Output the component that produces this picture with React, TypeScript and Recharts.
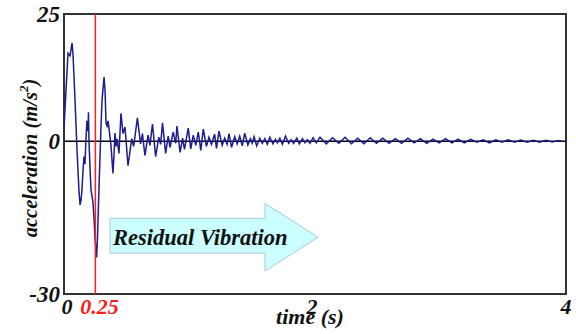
import React from 'react';
import { LineChart, Line, XAxis, YAxis, ReferenceLine, ReferenceArea } from 'recharts';

const font = 'Liberation Serif';

// impact transient, first 0.45 s
const transientT = [
  0, 0.016, 0.032, 0.048, 0.056, 0.064, 0.072, 0.088, 0.104, 0.12, 0.128, 0.136, 0.143, 0.151,
  0.159, 0.167, 0.175, 0.183, 0.191, 0.195, 0.199, 0.207, 0.215, 0.231, 0.239, 0.247, 0.26,
  0.268, 0.279, 0.295, 0.303, 0.319, 0.327, 0.335, 0.343, 0.351, 0.359, 0.375, 0.39, 0.398,
  0.406, 0.414, 0.422, 0.438,
];
const transientA = [
  2.5, 10, 17.3, 16.8, 18, 19.3, 17, 8, -2, -10, -12.5, -11.5, -9.6, -6,
  -3, -4.5, 0.5, 4, 2, 5.7, 0, -5, -9.5, -12, -15, -19, -22.8,
  -18, -9, 3, 8, 12.6, 10, 3.5, 3, 4, 2.5, -1, -6.3, -3,
  1.6, -1, 0.5, -2.4,
];

// residual vibration, 0.45 - 2 s
const decayT = [
  0.454, 0.47, 0.486, 0.51, 0.54, 0.555, 0.585, 0.61, 0.625, 0.645, 0.67, 0.685, 0.705, 0.73,
  0.755, 0.77, 0.785, 0.81, 0.83, 0.845, 0.87, 0.89, 0.9, 0.925, 0.945, 0.96, 0.99, 1.01,
  1.03, 1.05, 1.07, 1.09, 1.11, 1.135, 1.155, 1.175, 1.2, 1.215, 1.235, 1.26, 1.28, 1.3,
  1.315, 1.335, 1.36, 1.38, 1.4, 1.42, 1.44, 1.465, 1.485, 1.5, 1.515, 1.535, 1.56, 1.58,
  1.6, 1.62, 1.64, 1.665, 1.685, 1.7, 1.72, 1.74, 1.765, 1.79, 1.81, 1.83, 1.855, 1.875,
  1.9, 1.92, 1.94, 1.96, 1.985, 2.01,
];
const decayA = [
  5.5, 1.5, 2.8, -4.8, 0.5, -1, 4.6, -0.5, 1.5, -2.8, 1.2, -0.8, 3.4, -3,
  0.8, -0.6, 3.6, -2.4, 1, -1.2, 1.8, -0.4, 3, -2.2, 0.6, -1.6, 2.6, -1.5,
  1.2, -0.8, 1.8, -1.8, 2.4, -1, 0.8, -0.6, 1.4, -1.4, 2, -0.8, 0.6, -0.6,
  1.5, -1.2, 0.9, -0.5, 1, -0.9, 1.6, -0.7, 0.5, -0.4, 0.9, -0.9, 0.6, -0.4,
  0.5, -0.6, 0.8, -0.5, 0.4, -0.3, 0.6, -0.6, 1, -0.4, 0.3, -0.4, 0.6, -0.5,
  0.5, -0.3, 0.3, -0.4, 0.7, -0.3,
];

// tail, 2 - 4 s
const tailT = [
  2.04, 2.09, 2.14, 2.19, 2.24, 2.29, 2.34, 2.39, 2.44, 2.49, 2.54, 2.59, 2.64, 2.69,
  2.74, 2.79, 2.84, 2.89, 2.94, 2.99, 3.04, 3.09, 3.14, 3.19, 3.24, 3.29, 3.34, 3.39,
  3.44, 3.49, 3.54, 3.59, 3.64, 3.69, 3.74, 3.79, 3.84, 3.89, 3.94, 3.97,
];
const tailA = [
  0.8, -0.5, 0.7, -0.4, 0.8, -0.5, 0.6, -0.5, 0.7, -0.4, 0.6, -0.4, 0.5, -0.4,
  0.6, -0.3, 0.5, -0.4, 0.4, -0.3, 0.5, -0.3, 0.4, -0.3, 0.4, -0.2, 0.3, -0.3,
  0.3, -0.2, 0.3, -0.2, 0.25, -0.2, 0.2, -0.2, 0.2, -0.15, 0.15, 0,
];

const xTicks = [0, 0.25, 2, 4];
const yTicks = [-30, 0, 25];
const impactTime = 0.25;

const times = [...transientT, ...decayT, ...tailT];
const accel = [...transientA, ...decayA, ...tailA];
const data = times.map((t, i) => ({ t, a: accel[i] }));

const XTick = (props: any) => {
  const { x, y, payload } = props;
  const v = payload.value;
  const shift = v === 0 ? 3 : v === 0.25 ? 4 : v === 2 ? -3 : 0;
  return (
    <text
      x={x + shift}
      y={y + 20}
      textAnchor="middle"
      fontFamily={font}
      fontSize={22}
      fontWeight="bold"
      fontStyle="italic"
      fill={v === impactTime ? '#ff1a1a' : '#111'}
    >
      {v}
    </text>
  );
};

const YTick = (props: any) => {
  const { y, payload } = props;
  return (
    <text
      x={60}
      y={y + 8}
      textAnchor="end"
      fontFamily={font}
      fontSize={23}
      fontWeight="bold"
      fontStyle="italic"
      fill="#111"
    >
      {payload.value}
    </text>
  );
};

const Arrow = (props: any) => {
  const { x, y, width, height } = props;
  const bodyTop = y + height * 0.22;
  const bodyBot = y + height * 0.735;
  const headX = x + width * 0.745;
  const pts = [
    [x, bodyTop],
    [headX, bodyTop],
    [headX, y],
    [x + width, y + height / 2],
    [headX, y + height],
    [headX, bodyBot],
    [x, bodyBot],
  ]
    .map((p) => p.join(','))
    .join(' ');
  return (
    <g>
      <polygon points={pts} fill="#ccffff" stroke="#a8c8d8" strokeWidth={1} />
      <text
        x={x + 3}
        y={y + 42}
        fontFamily={font}
        fontSize={22.5}
        fontWeight="bold"
        fontStyle="italic"
        fill="#111"
      >
        Residual Vibration
      </text>
    </g>
  );
};

export default function App() {
  return (
    <div style={{ position: 'absolute', left: 0, top: 0, background: '#fff' }}>
      <LineChart width={576} height={334} data={data} margin={{ top: 14, right: 10, bottom: 10, left: 0 }}>
        <XAxis
          type="number"
          dataKey="t"
          domain={[0, 4]}
          ticks={xTicks}
          interval={0}
          height={30}
          tickSize={0}
          tickMargin={0}
          axisLine={false}
          tickLine={false}
          tick={<XTick />}
          allowDataOverflow
          label={{
            content: (p: any) => (
              <text
                x={p.viewBox.x + p.viewBox.width / 2 - 5}
                y={p.viewBox.y + 30}
                textAnchor="middle"
                fontFamily={font}
                fontSize={22}
                fontWeight="bold"
                fontStyle="italic"
                fill="#111"
              >
                time (s)
              </text>
            ),
          }}
        />
        <YAxis
          type="number"
          domain={[-30, 25]}
          ticks={yTicks}
          interval={0}
          width={64}
          tickSize={0}
          tickMargin={0}
          axisLine={false}
          tickLine={false}
          tick={<YTick />}
          allowDataOverflow
          label={{
            content: (p: any) => {
              const cx = 30;
              const cy = p.viewBox.y + p.viewBox.height / 2 + 4;
              return (
                <text
                  x={cx}
                  y={cy}
                  transform={`rotate(-90 ${cx} ${cy})`}
                  textAnchor="middle"
                  dominantBaseline="central"
                  fontFamily={font}
                  fontSize={20.5}
                  fontWeight="bold"
                  fontStyle="italic"
                  fill="#111"
                >
                  acceleration (m/s
                  <tspan dy={-7} fontSize={13}>2</tspan>
                  <tspan dy={7}>)</tspan>
                </text>
              );
            },
          }}
        />
        <ReferenceArea x1={0.367} x2={2.024} y1={-25.5} y2={-12.2} shape={<Arrow />} ifOverflow="visible" />
        <ReferenceLine y={0} stroke="#000" strokeWidth={1.5} />
        <Line
          type="linear"
          dataKey="a"
          stroke="#1c1c90"
          strokeWidth={1.5}
          dot={false}
          isAnimationActive={false}
        />
        <ReferenceLine x={impactTime} stroke="#ff2020" strokeWidth={1.5} />
        <ReferenceArea x1={0} x2={4} y1={-30} y2={25} fill="none" stroke="#333" strokeWidth={2} ifOverflow="visible" />
      </LineChart>
    </div>
  );
}
